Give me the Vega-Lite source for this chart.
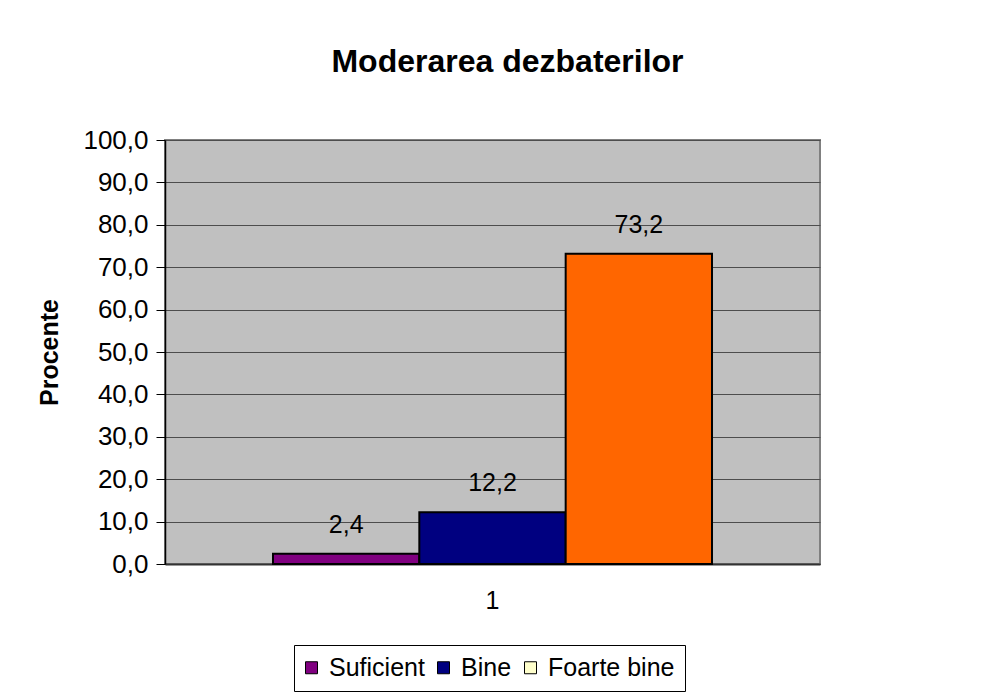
{
  "$schema": "https://vega.github.io/schema/vega-lite/v6.json",
  "autosize": "none",
  "width": 655,
  "height": 424,
  "padding": {"left": 165, "top": 140, "right": 184, "bottom": 129},
  "background": "white",
  "title": {
    "text": "Moderarea dezbaterilor",
    "font": "Liberation Sans",
    "fontSize": 32,
    "fontWeight": "bold",
    "color": "#000000",
    "anchor": "middle",
    "baseline": "alphabetic",
    "offset": 23,
    "dx": 15
  },
  "data": {
    "values": [
      {"cat": "1", "serie": "Suficient", "procent": 2.4},
      {"cat": "1", "serie": "Bine", "procent": 12.2},
      {"cat": "1", "serie": "Foarte bine", "procent": 73.2}
    ]
  },
  "encoding": {
    "x": {
      "field": "cat",
      "type": "nominal",
      "scale": {"paddingInner": 0, "paddingOuter": 0.246},
      "axis": {
        "title": null,
        "labelAngle": 0,
        "labelFontSize": 25,
        "labelPadding": 24,
        "ticks": false,
        "domainColor": "#333333",
        "domainWidth": 2,
        "grid": false
      }
    },
    "xOffset": {
      "field": "serie",
      "type": "nominal",
      "scale": {"domain": ["Suficient", "Bine", "Foarte bine"], "paddingInner": 0, "paddingOuter": 0}
    },
    "y": {
      "field": "procent",
      "type": "quantitative",
      "scale": {"domain": [0, 100], "nice": false},
      "axis": {
        "title": "Procente",
        "titleFontSize": 25,
        "titleFontWeight": "bold",
        "titlePadding": 20,
        "values": [0, 10, 20, 30, 40, 50, 60, 70, 80, 90, 100],
        "format": ".1f",
        "labelFontSize": 26,
        "labelPadding": 8,
        "tickSize": 9,
        "tickColor": "#000000",
        "domainColor": "#000000",
        "domainWidth": 1.5,
        "grid": true,
        "gridColor": "#4d4d4d",
        "gridWidth": 1.2
      }
    }
  },
  "layer": [
    {
      "mark": {"type": "bar", "stroke": "#000000", "strokeWidth": 2},
      "encoding": {
        "color": {
          "condition": {"test": "datum.serie === 'Foarte bine'", "value": "#FF6600"},
          "field": "serie",
          "type": "nominal",
          "scale": {"domain": ["Suficient", "Bine", "Foarte bine"], "range": ["#800080", "#000080", "#FFFFCC"]},
          "legend": {
            "title": null,
            "orient": "none",
            "legendX": 129,
            "legendY": 505,
            "direction": "horizontal",
            "columns": 3,
            "padding": 10,
            "strokeColor": "#000000",
            "fillColor": "#ffffff",
            "labelFontSize": 25,
            "labelOffset": 5,
            "columnPadding": 10,
            "symbolOffset": -5,
            "symbolType": "square",
            "symbolSize": 144,
            "symbolStrokeColor": "#000000",
            "symbolStrokeWidth": 1,
            "symbolOpacity": 1
          }
        }
      }
    },
    {
      "mark": {"type": "text", "baseline": "alphabetic", "dy": -21, "fontSize": 25, "color": "#000000"},
      "encoding": {
        "text": {"field": "procent", "type": "quantitative", "format": ".1f"}
      }
    }
  ],
  "config": {
    "font": "Liberation Sans",
    "locale": {"number": {"decimal": ",", "thousands": ".", "grouping": [3], "currency": ["", " lei"]}},
    "view": {"fill": "#C0C0C0", "stroke": "#808080", "strokeWidth": 2},
    "axis": {"labelColor": "#000000", "titleColor": "#000000", "labelFont": "Liberation Sans", "titleFont": "Liberation Sans"},
    "legend": {"labelColor": "#000000", "labelFont": "Liberation Sans"}
  }
}
